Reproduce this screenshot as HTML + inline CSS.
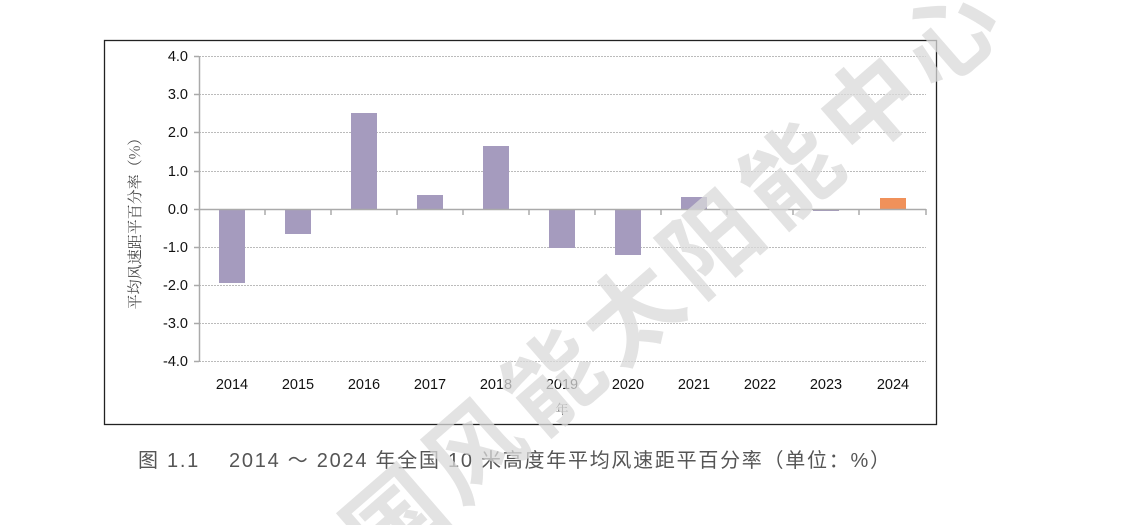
<!DOCTYPE html>
<html><head><meta charset="utf-8"><style>html,body{margin:0;background:#fff;overflow:hidden;width:1143px;height:525px}svg{display:block}</style></head>
<body>
<svg width="1143" height="525" viewBox="0 0 1143 525" overflow="hidden" xmlns="http://www.w3.org/2000/svg" font-family="Liberation Sans, Noto Sans CJK SC, sans-serif">
<defs><clipPath id="c"><rect x="0" y="0" width="1143" height="525"/></clipPath></defs>
<rect x="104.5" y="40.5" width="832" height="384" fill="#fff" stroke="#222" stroke-width="1.3"/>
<g stroke="#bbb" stroke-width="1" stroke-dasharray="2,1">
<line x1="199" x2="926" y1="56.5" y2="56.5"/><line x1="199" x2="926" y1="94.5" y2="94.5"/>
<line x1="199" x2="926" y1="132.5" y2="132.5"/><line x1="199" x2="926" y1="171.5" y2="171.5"/>
<line x1="199" x2="926" y1="247.5" y2="247.5"/><line x1="199" x2="926" y1="285.5" y2="285.5"/>
<line x1="199" x2="926" y1="323.5" y2="323.5"/><line x1="199" x2="926" y1="361.5" y2="361.5"/>
</g>
<g stroke="#aaa" stroke-width="1.5">
<line x1="199.5" y1="56" x2="199.5" y2="362"/>
<line x1="194" y1="56.5" x2="199" y2="56.5"/><line x1="194" y1="94.5" x2="199" y2="94.5"/><line x1="194" y1="132.5" x2="199" y2="132.5"/><line x1="194" y1="171.5" x2="199" y2="171.5"/><line x1="194" y1="209.5" x2="199" y2="209.5"/><line x1="194" y1="247.5" x2="199" y2="247.5"/><line x1="194" y1="285.5" x2="199" y2="285.5"/><line x1="194" y1="323.5" x2="199" y2="323.5"/><line x1="194" y1="361.5" x2="199" y2="361.5"/>
</g>
<g fill="#a59bbe">
<rect x="219" y="209" width="26" height="74"/>
<rect x="285" y="209" width="26" height="25"/>
<rect x="351" y="113" width="26" height="96"/>
<rect x="417" y="195" width="26" height="14"/>
<rect x="483" y="146" width="26" height="63"/>
<rect x="549" y="209" width="26" height="39"/>
<rect x="615" y="209" width="26" height="46"/>
<rect x="681" y="197" width="26" height="12"/>
<rect x="813" y="209" width="26" height="2"/>
</g>
<rect x="880" y="198" width="26" height="11" fill="#f0915a"/>
<g stroke="#aaa" stroke-width="1.5">
<line x1="199" y1="209.5" x2="926" y2="209.5"/>
<line x1="265" y1="209" x2="265" y2="215"/><line x1="331" y1="209" x2="331" y2="215"/><line x1="397" y1="209" x2="397" y2="215"/><line x1="463" y1="209" x2="463" y2="215"/><line x1="529" y1="209" x2="529" y2="215"/><line x1="595" y1="209" x2="595" y2="215"/><line x1="661" y1="209" x2="661" y2="215"/><line x1="727" y1="209" x2="727" y2="215"/><line x1="793" y1="209" x2="793" y2="215"/><line x1="859" y1="209" x2="859" y2="215"/><line x1="926" y1="209" x2="926" y2="215"/>
</g>
<g font-size="14.5" fill="#111" text-anchor="end">
<text x="188" y="61">4.0</text><text x="188" y="99">3.0</text><text x="188" y="137">2.0</text><text x="188" y="176">1.0</text><text x="188" y="214">0.0</text><text x="188" y="252">-1.0</text><text x="188" y="290">-2.0</text><text x="188" y="328">-3.0</text><text x="188" y="366">-4.0</text>
</g>
<g font-size="14.5" fill="#111" text-anchor="middle">
<text x="232" y="389">2014</text><text x="298" y="389">2015</text><text x="364" y="389">2016</text><text x="430" y="389">2017</text><text x="496" y="389">2018</text><text x="562" y="389">2019</text><text x="628" y="389">2020</text><text x="694" y="389">2021</text><text x="760" y="389">2022</text><text x="826" y="389">2023</text><text x="893" y="389">2024</text>
</g>
<text x="562" y="414" font-size="13" fill="#555" text-anchor="middle" font-family="Noto Serif CJK SC, serif">年</text>
<text transform="translate(140,220) rotate(-90)" font-size="15" fill="#444" text-anchor="middle" font-family="Noto Serif CJK SC, serif">平均风速距平百分率（%）</text>
<text x="138" y="467" font-size="20" fill="#555" textLength="752" lengthAdjust="spacing">图 1.1　 2014 ～ 2024 年全国 10 米高度年平均风速距平百分率（单位：%）</text>
<g clip-path="url(#c)">
<text transform="translate(1015,25) rotate(-41)" font-size="95" font-weight="bold" fill="#d9d9d9" fill-opacity="0.75" text-anchor="end" letter-spacing="10" font-family="Noto Sans CJK SC, sans-serif">中国风能太阳能中心</text>
</g>
</svg>
</body></html>
